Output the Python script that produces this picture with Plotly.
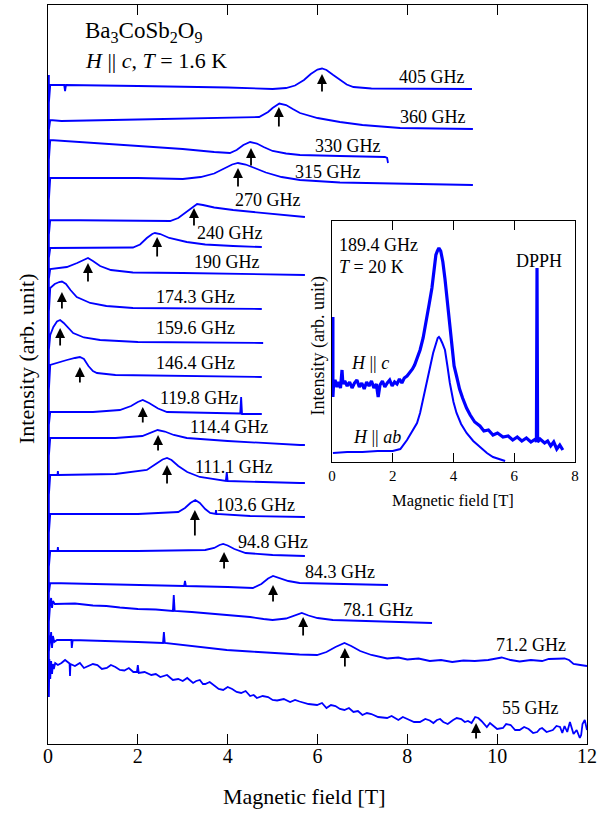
import plotly.graph_objects as go

# ---------------- main panel data: field B [T], intensity I [arb. unit, offset stacked] -------------
B_405 = [0.02, 0.02, 0.05, 0.36, 0.38, 0.40, 2, 4, 5.0, 5.3, 5.5, 5.7, 5.85, 6.0, 6.1, 6.2, 6.35, 6.5, 6.65, 6.8, 7.2, 9.44]
I_405 = [669, 641, 659, 659, 653, 659, 658, 656.5, 655, 656, 658.5, 664, 670, 674.5, 675.5, 674, 669, 664, 659.5, 657, 655.5, 655]

B_360 = [0.02, 0.02, 0.05, 0.3, 2, 4, 4.7, 4.9, 5.0, 5.15, 5.3, 5.45, 5.61, 6.0, 6.5, 7.0, 7.84, 9.46]
I_360 = [641, 614, 624, 623, 624.5, 626, 627, 632, 636, 640.5, 639, 635, 631, 626, 622, 619, 616, 615]

B_330 = [0.02, 0.02, 0.05, 1, 2, 3, 3.7, 4.05, 4.2, 4.35, 4.5, 4.65, 4.8, 5.0, 5.3, 5.61, 6.5, 7.5, 7.55, 7.57]
I_330 = [614, 584, 604, 601, 598, 595, 592, 591, 594, 599, 602, 600.5, 597, 593, 590.5, 589, 588, 587, 586, 581]

B_315 = [0.02, 0.02, 0.05, 2, 3.0, 3.4, 3.7, 3.95, 4.1, 4.23, 4.4, 4.6, 4.85, 5.2, 5.61, 6.5, 8, 9.46]
I_315 = [584, 544, 566, 566, 565, 567, 570.5, 576, 579.5, 581, 579.5, 576, 571.5, 567, 564, 561.5, 560, 559]

B_270 = [0.02, 0.02, 0.05, 2, 2.72, 2.9, 3.1, 3.25, 3.32, 3.45, 3.7, 4.12, 4.87, 5.61, 5.72]
I_270 = [544, 509, 524, 523.5, 523, 526, 533, 538.5, 540, 539, 536.5, 534, 531, 527.5, 527]

B_240 = [0.02, 0.02, 0.05, 1.89, 2.05, 2.2, 2.32, 2.38, 2.5, 2.7, 3.09, 3.5, 4.12, 4.76]
I_240 = [509, 486, 496, 496.5, 499.5, 506, 510, 511, 510, 506, 502, 499.5, 498, 497]

B_190 = [0.02, 0.02, 0.05, 0.42, 0.65, 0.8, 0.89, 1.0, 1.16, 1.4, 1.89, 3, 4.5, 5.72]
I_190 = [486, 465, 475, 477, 481, 484.5, 486, 483, 478, 474, 471.5, 471, 470, 469]

B_174 = [0.02, 0.02, 0.05, 0.15, 0.25, 0.31, 0.4, 0.5, 0.64, 0.94, 1.3, 1.89, 4.76]
I_174 = [465, 432, 456, 460, 462, 462.5, 460, 454, 447, 441, 438, 436, 435]

B_159 = [0.02, 0.02, 0.05, 0.12, 0.2, 0.27, 0.35, 0.45, 0.56, 0.8, 1.16, 2, 4.79]
I_159 = [432, 394, 409, 417, 422.5, 424, 421, 416, 411, 406.5, 404, 402, 401]

B_146 = [0.02, 0.02, 0.05, 0.25, 0.42, 0.6, 0.71, 0.8, 0.9, 1.0, 1.09, 1.5, 4.76]
I_146 = [394, 354, 379, 382, 384, 386, 387, 385, 378, 373, 371, 369, 367]

B_119 = [0.02, 0.02, 0.05, 1.0, 1.6, 1.85, 2.0, 2.11, 2.25, 2.45, 2.65, 3.5, 4.28, 4.3, 4.32, 4.76]
I_119 = [354, 319, 332, 332, 334, 338, 342, 344, 341, 335.5, 332, 331, 330.5, 347, 330, 330]

B_114 = [0.02, 0.02, 0.05, 1.5, 2.1, 2.3, 2.44, 2.6, 2.8, 3.09, 4.0, 5.61, 5.72]
I_114 = [319, 288, 306, 306, 308, 312, 314, 312.5, 309, 306, 303, 299, 299]

B_111 = [0.02, 0.02, 0.05, 0.21, 0.22, 0.23, 1.5, 2.2, 2.4, 2.55, 2.65, 2.75, 2.9, 3.1, 3.38, 3.96, 3.98, 4.0, 5.61, 5.72]
I_111 = [288, 249, 269, 269, 273, 269, 270, 274, 280, 284.5, 286, 284, 278, 272, 267, 263, 272, 263, 261, 261]

B_103 = [0.02, 0.02, 0.05, 2, 2.9, 3.05, 3.17, 3.28, 3.38, 3.5, 3.61, 3.73, 3.74, 3.75, 4.5, 5.61, 5.72]
I_103 = [249, 211, 230, 230, 232, 236, 241, 244, 241, 235, 231, 230, 234, 230, 228, 227, 227]

B_94 = [0.02, 0.02, 0.05, 0.21, 0.22, 0.23, 2, 3.5, 3.7, 3.82, 3.9, 4.0, 4.15, 4.4, 5.0, 5.72]
I_94 = [211, 177, 193, 193, 197, 193, 193, 194, 196, 199, 200, 198.5, 195, 191, 189, 188]

B_84 = [0.02, 0.02, 0.05, 2, 3.03, 3.05, 3.07, 4.0, 4.56, 4.75, 4.9, 5.01, 5.15, 5.35, 5.6, 6.5, 7.57]
I_84 = [177, 151, 161, 159, 158, 163, 158, 157, 156, 160, 165.5, 168, 166, 163, 161, 160, 159]

B_78 = [0.02, 0.02, 0.05, 0.07, 0.09, 0.11, 0.15, 0.6, 1.0, 1.3, 1.6, 2.0, 2.4, 2.78, 2.8, 2.82, 3.2, 3.5, 3.9, 4.3,
        4.5, 4.8, 5.0, 5.3, 5.5, 5.65, 5.8, 6.0, 6.34, 7.0, 7.8, 8.55]
I_78 = [151, 122, 141, 146, 136, 143, 140, 140.5, 138.5, 138, 136.5, 135, 134.5, 133, 149, 133, 132, 131, 129.5, 128,
        127, 125, 124, 125.5, 129, 131, 128.5, 126, 124, 123, 122, 121]

B_71 = [0.02, 0.02, 0.05, 0.07, 0.09, 0.11, 0.14, 0.2, 0.52, 0.53, 0.55, 1.0, 1.5, 2.0, 2.56, 2.58, 2.6, 3.2, 3.98, 4.5,
        5.0, 5.6, 5.99, 6.2, 6.4, 6.6, 6.75, 6.95, 7.2,
        7.55, 7.8, 8.0, 8.25, 8.5, 8.75, 9.0, 9.25, 9.5, 9.8, 10.1, 10.3, 10.5, 10.75, 11.0, 11.15, 11.3, 11.5,
        11.6, 11.7, 11.85, 12]
I_71 = [122, 92, 104, 112, 96, 108, 102, 104, 104, 96, 104, 103.5, 102.5, 102, 101, 112, 101, 98, 94, 92.5,
        91, 89.5, 89, 92, 97, 101, 98, 93, 89,
        85.5, 86.5, 84.5, 85.5, 83, 84, 82, 83.5, 83, 84, 86.5, 84, 82.5, 84, 83, 85, 85, 85.5,
        84, 80, 79, 78]

B_55 = [0.02, 0.02, 0.03, 0.05, 0.07, 0.09, 0.11, 0.13, 0.16, 0.22,
        0.3, 0.38, 0.48, 0.49, 0.5, 0.6, 0.71, 0.8, 0.9, 1.0,
        1.1, 1.2, 1.31, 1.4, 1.5, 1.6, 1.7, 1.8, 1.9, 1.98,
        2.0, 2.02, 2.15, 2.3, 2.4, 2.5, 2.65, 2.78, 2.9, 3.0,
        3.1, 3.23, 3.3, 3.38, 3.45, 3.5, 3.6, 3.7, 3.8, 3.9,
        4.0, 4.1, 4.2, 4.3, 4.4, 4.5, 4.58, 4.65, 4.78, 4.9,
        5.0, 5.1, 5.25, 5.39, 5.5, 5.6, 5.8, 5.99, 6.1, 6.2,
        6.3, 6.4, 6.5, 6.6, 6.7, 6.8, 6.9, 7.0, 7.1, 7.2,
        7.35, 7.55, 7.65, 7.8, 7.9, 8.0, 8.15, 8.28, 8.4, 8.5,
        8.58, 8.66, 8.73, 8.8, 8.9, 9.02, 9.1, 9.2, 9.28, 9.35,
        9.43, 9.51, 9.58, 9.65, 9.7, 9.77, 9.84, 9.9, 10.0, 10.13,
        10.2, 10.3, 10.4, 10.5, 10.6, 10.7, 10.8, 10.89, 10.95, 11.0,
        11.1, 11.24, 11.32, 11.4, 11.45, 11.5, 11.56, 11.62, 11.66, 11.7,
        11.77, 11.84, 11.87, 11.9, 11.95, 12]
I_55 = [92, 47, 85, 65, 83, 70, 80, 75, 81, 79,
        81, 84, 80.5, 68, 80, 78, 81, 76, 78, 80,
        79, 75, 76, 79, 77, 74, 73.5, 76, 72, 72,
        79, 71, 72, 69, 70, 67, 69, 64, 65, 63,
        66, 61, 63, 64, 60, 60, 62, 58, 55, 54,
        57, 55, 52, 51, 53, 48, 49, 46, 48, 47,
        44, 43.5, 45, 42, 44, 42.5, 40, 39, 41, 36,
        39, 38, 35, 34, 36, 32, 33, 29, 31, 30,
        27, 26, 28, 24, 27, 25, 22, 22, 25, 23.5,
        21, 24, 25, 22, 20, 24, 26, 25, 22, 23,
        21, 27, 26, 23, 20, 17, 21, 19, 15, 16,
        20, 19, 14, 14, 17, 15, 11, 12, 15, 16,
        12, 14, 18, 17, 11, 18, 12, 22, 15, 10,
        14, 6, 9, 20, 24, 14]

freq_labels = ["405 GHz", "360 GHz", "330 GHz", "315 GHz", "270 GHz", "240 GHz", "190 GHz", "174.3 GHz",
               "159.6 GHz", "146.4 GHz", "119.8 GHz", "114.4 GHz", "111.1 GHz", "103.6 GHz", "94.8 GHz",
               "84.3 GHz", "78.1 GHz", "71.2 GHz", "55 GHz"]

# resonance fields marked by arrows, with arrow tip / tail heights
arrow_B = [6.1, 5.14, 4.52, 4.23, 3.25, 2.43, 0.89, 0.31, 0.27, 0.71, 2.11, 2.45, 2.65, 3.27, 3.92, 5.01, 5.68, 6.61, 9.53]
arrow_tip = [670, 637, 596, 576, 536, 507, 481, 452, 416, 377, 337, 309, 279, 234, 192, 159, 127, 96, 21]
arrow_tail = [651, 616, 577, 556, 517, 486, 461, 434, 397, 360, 320, 292, 259, 207, 174, 141, 107, 76, 4]

# ---------------- inset data (189.4 GHz, T = 20 K) ----------------
B_c = [0.03, 0.03, 0.05, 0.1, 0.16, 0.22, 0.28, 0.33, 0.36, 0.42, 0.5, 0.58, 0.66, 0.74, 0.82, 0.9, 0.98, 1.06, 1.14,
       1.22, 1.3, 1.38, 1.46, 1.52, 1.58, 1.66, 1.74, 1.82, 1.9, 1.98, 2.06, 2.14, 2.22, 2.3, 2.38, 2.47, 2.56,
       2.65, 2.72, 2.8, 2.9, 3.0, 3.06, 3.13, 3.2, 3.29, 3.36, 3.42, 3.47, 3.52, 3.58, 3.65, 3.72, 3.79, 3.85,
       3.92, 4.02, 4.1, 4.2, 4.3, 4.43, 4.55, 4.7, 4.87, 5.0, 5.15, 5.3, 5.45, 5.63, 5.8, 5.95, 6.1, 6.25, 6.4,
       6.55, 6.7, 6.73, 6.75, 6.77, 6.85, 7.0, 7.1, 7.2, 7.3, 7.4, 7.5, 7.6]
I_c = [145, 65, 77, 82, 75, 80, 74, 92, 78, 81, 76, 80, 74, 79, 82, 75, 79, 73, 80,
       76, 81, 74, 78, 65, 77, 81, 75, 79, 82, 76, 80, 78, 83, 79, 84, 86, 89,
       93, 97, 103, 112, 124, 133, 144, 158, 174, 192, 207, 211, 214, 211, 200, 183, 163, 145,
       126, 96, 86, 73, 64, 54, 47, 40, 36, 31, 32, 27, 29, 25, 26, 22, 25, 21, 24,
       20, 23, 20, 194, 20, 23, 19, 21, 16, 20, 13, 17, 12]

B_ab = [0.03, 0.5, 1.0, 1.5, 2.0, 2.25, 2.47, 2.65, 2.8, 2.9, 3.0, 3.12, 3.23, 3.33, 3.42, 3.48, 3.52, 3.57, 3.63,
        3.72, 3.8, 3.88, 4.0, 4.1, 4.25, 4.43, 4.65, 4.87, 5.1, 5.3, 5.5, 5.7]
I_ab = [9, 10, 10, 11, 11, 13, 22, 31, 39, 49, 62, 79, 95, 109, 119, 124, 125, 123, 119,
        112, 96, 79, 60, 49, 38, 29, 21, 15, 9, 5, 3, 1]

spectra = [(B_405, I_405), (B_360, I_360), (B_330, I_330), (B_315, I_315), (B_270, I_270), (B_240, I_240),
           (B_190, I_190), (B_174, I_174), (B_159, I_159), (B_146, I_146), (B_119, I_119), (B_114, I_114),
           (B_111, I_111), (B_103, I_103), (B_94, I_94), (B_84, I_84), (B_78, I_78), (B_71, I_71), (B_55, I_55)]

# label placement (right edge field, height) - layout only
label_pos = [(9.33, 667), (9.35, 627), (7.46, 598), (7.01, 572), (5.68, 544), (4.83, 511), (4.76, 482),
             (4.2, 447), (4.2, 416), (4.2, 381), (4.27, 346), (4.94, 317), (5.05, 277), (5.54, 239),
             (5.83, 202), (7.33, 172), (8.17, 134), (11.58, 99), (11.42, 36)]

BLUE = "rgb(0,0,255)"
FONT = "Liberation Serif, Times New Roman, serif"

fig = go.Figure()
for (bx, iy) in spectra:
    fig.add_trace(go.Scatter(x=bx, y=iy, mode="lines", line=dict(color=BLUE, width=1.8),
                             showlegend=False, hoverinfo="skip", xaxis="x", yaxis="y"))

fig.add_trace(go.Scatter(x=B_c, y=I_c, mode="lines", line=dict(color=BLUE, width=3.2),
                         showlegend=False, hoverinfo="skip", xaxis="x2", yaxis="y2"))
fig.add_trace(go.Scatter(x=B_ab, y=I_ab, mode="lines", line=dict(color=BLUE, width=2),
                         showlegend=False, hoverinfo="skip", xaxis="x2", yaxis="y2"))

ann = []
for txt, (lx, ly) in zip(freq_labels, label_pos):
    ann.append(dict(x=lx, y=ly, xref="x", yref="y", text=txt, showarrow=False, xanchor="right",
                    yanchor="middle", font=dict(size=18, color="black", family=FONT)))
for bx, tip, tail in zip(arrow_B, arrow_tip, arrow_tail):
    ann.append(dict(x=bx, y=tip, ax=bx, ay=tail, xref="x", yref="y", axref="x", ayref="y", text="",
                    showarrow=True, arrowhead=2, arrowsize=1.1, arrowwidth=1.8, arrowcolor="black",
                    standoff=0, startstandoff=0))

ann += [
    dict(x=0.78, y=712, xref="x", yref="y", text="Ba<sub>3</sub>CoSb<sub>2</sub>O<sub>9</sub>", showarrow=False,
         xanchor="left", yanchor="middle", font=dict(size=23, color="black", family=FONT)),
    dict(x=0.78, y=684, xref="x", yref="y", text="<i>H</i> || <i>c</i>, <i>T</i> = 1.6 K", showarrow=False,
         xanchor="left", yanchor="middle", font=dict(size=22, color="black", family=FONT)),
    dict(x=0.475, y=-0.0717, xref="paper", yref="paper", text="Magnetic field [T]", showarrow=False,
         xanchor="center", yanchor="middle", font=dict(size=22, color="black", family=FONT)),
    dict(x=-0.039, y=0.521, xref="paper", yref="paper", text="Intensity (arb. unit)", showarrow=False,
         textangle=-90, xanchor="center", yanchor="middle", font=dict(size=22, color="black", family=FONT)),
    # inset texts
    dict(x=0.16, y=217, xref="x2", yref="y2", text="189.4 GHz", showarrow=False, xanchor="left",
         yanchor="middle", font=dict(size=18, color="black", family=FONT)),
    dict(x=0.16, y=195, xref="x2", yref="y2", text="<i>T</i> = 20 K", showarrow=False, xanchor="left",
         yanchor="middle", font=dict(size=18, color="black", family=FONT)),
    dict(x=6.8, y=201, xref="x2", yref="y2", text="DPPH", showarrow=False, xanchor="center",
         yanchor="middle", font=dict(size=18, color="black", family=FONT)),
    dict(x=1.25, y=99, xref="x2", yref="y2", text="<i>H</i> || <i>c</i>", showarrow=False, xanchor="center",
         yanchor="middle", font=dict(size=18, color="black", family=FONT)),
    dict(x=1.48, y=25, xref="x2", yref="y2", text="<i>H</i> || <i>ab</i>", showarrow=False, xanchor="center",
         yanchor="middle", font=dict(size=18, color="black", family=FONT)),
    dict(x=0.7514, y=0.330, xref="paper", yref="paper", text="Magnetic field [T]", showarrow=False,
         xanchor="center", yanchor="middle", font=dict(size=16.5, color="black", family=FONT)),
    dict(x=0.501, y=0.538, xref="paper", yref="paper", text="Intensity (arb. unit)", showarrow=False,
         textangle=-90, xanchor="center", yanchor="middle", font=dict(size=18, color="black", family=FONT)),
]

fig.update_layout(
    width=608, height=813,
    margin=dict(l=48, r=21, t=5, b=69),
    paper_bgcolor="white", plot_bgcolor="white",
    font=dict(family=FONT, color="black"),
    showlegend=False,
    annotations=ann,
    xaxis=dict(domain=[0, 1], range=[0, 12], tickvals=[0, 2, 4, 6, 8, 10, 12], ticks="inside", ticklen=10,
               tickwidth=1, tickcolor="black", showline=True, linecolor="black", linewidth=1, mirror="ticks",
               showgrid=False, zeroline=False, tickfont=dict(size=20, family=FONT), ticklabelstandoff=-6,
               layer="below traces"),
    yaxis=dict(domain=[0, 1], range=[0, 739], showticklabels=False, ticks="", showline=True,
               linecolor="black", linewidth=1, mirror=True, showgrid=False, zeroline=False,
               layer="below traces"),
    xaxis2=dict(domain=[0.5269, 0.9777], range=[0, 8], anchor="y2", tickvals=[0, 2, 4, 6, 8], ticks="inside",
                ticklen=9, tickwidth=1, tickcolor="black", showline=True, linecolor="black", linewidth=1,
                mirror="ticks", showgrid=False, zeroline=False, tickfont=dict(size=15, family=FONT),
                ticklabelstandoff=0, layer="below traces"),
    yaxis2=dict(domain=[0.3816, 0.7077], range=[0, 241], anchor="x2", showticklabels=False, ticks="",
                showline=True, linecolor="black", linewidth=1, mirror=True, showgrid=False, zeroline=False,
                layer="below traces"),
)

fig.write_html("out.html")
